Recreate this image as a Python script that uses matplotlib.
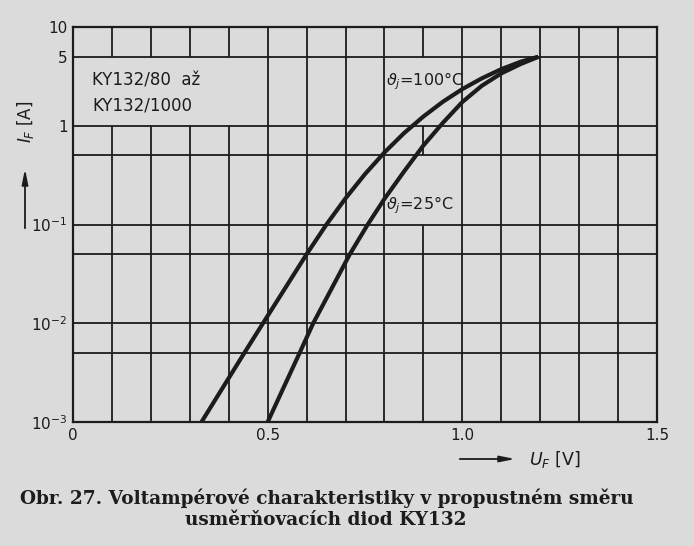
import matplotlib.pyplot as plt
from matplotlib.patches import Rectangle

# forward characteristic, U_F [V] vs I_F [A]
v_100 = [0.33, 0.44, 0.488, 0.60, 0.651, 0.70, 0.75, 0.80, 0.85, 0.90,
         0.95, 1.00, 1.05, 1.10, 1.15, 1.195]
i_100 = [0.001, 0.005, 0.01, 0.05, 0.1, 0.184, 0.324, 0.537, 0.84, 1.24,
         1.75, 2.35, 3.02, 3.74, 4.45, 5.0]

v_25 = [0.50, 0.582, 0.617, 0.711, 0.757, 0.80, 0.85, 0.90, 0.95, 1.00,
        1.05, 1.10, 1.15, 1.195]
i_25 = [0.001, 0.005, 0.01, 0.05, 0.1, 0.182, 0.343, 0.631, 1.07, 1.74,
        2.54, 3.39, 4.22, 4.98]

x_ticks = [0, 0.5, 1.0, 1.5]
x_tick_labels = ["0", "0.5", "1.0", "1.5"]
x_grid = [k / 10 for k in range(16)]
y_ticks = [1e-3, 1e-2, 1e-1, 1, 5, 10]
y_tick_labels = [r"$10^{-3}$", r"$10^{-2}$", r"$10^{-1}$", "1", "5", "10"]
y_grid = [1e-3, 5e-3, 1e-2, 5e-2, 1e-1, 0.5, 1, 5, 10]

paper = "#dbdbdb"
ink = "#1c1c1c"

plt.rcParams["font.family"] = ["DejaVu Sans"]
plt.rcParams["mathtext.fontset"] = "dejavusans"

fig = plt.figure(figsize=(6.94, 5.46), dpi=100, facecolor=paper)
ax = fig.add_axes([73 / 694, 1 - 422 / 546, (657 - 73) / 694, (422 - 27) / 546])
ax.set_facecolor(paper)
ax.set_yscale("log")
ax.set_xlim(0, 1.5)
ax.set_ylim(1e-3, 10)

# grid by hand: verticals under the label blanks, horizontals above them
for x in x_grid:
    ax.axvline(x, color=ink, lw=1.3, zorder=1)
for y in y_grid:
    ax.axhline(y, color=ink, lw=1.3, zorder=2.5)

# blank paper behind the labels (the scan has the verticals cut there)
for x0, x1, y0, y1 in [(0.004, 0.494, 1, 5), (0.86, 0.94, 1, 5), (0.86, 0.94, 0.1, 0.5)]:
    ax.add_patch(Rectangle((x0, y0), x1 - x0, y1 - y0, facecolor=paper,
                           edgecolor="none", zorder=2))

ax.plot(v_100, i_100, color=ink, lw=3.0, solid_capstyle="butt",
        solid_joinstyle="round", zorder=3)
ax.plot(v_25, i_25, color=ink, lw=3.0, solid_capstyle="butt",
        solid_joinstyle="round", zorder=3)

ax.text(0.049, 2.15, "KY132/80  až\nKY132/1000", fontsize=12, color=ink,
        va="center", ha="left", linespacing=1.55, zorder=4)
ax.text(0.805, 2.57, r"$\vartheta_j$=100°C", fontsize=11.5, color=ink,
        va="baseline", ha="left", zorder=4)
ax.text(0.805, 0.141, r"$\vartheta_j$=25°C", fontsize=11.5, color=ink,
        va="baseline", ha="left", zorder=4)

ax.set_xticks(x_ticks)
ax.set_xticklabels(x_tick_labels)
ax.set_yticks(y_ticks)
ax.set_yticklabels(y_tick_labels)
ax.minorticks_off()
ax.tick_params(length=0, labelsize=11, colors=ink, pad=4)
for s in ax.spines.values():
    s.set_color(ink)
    s.set_linewidth(1.6)

# axis captions with arrows, as in the book
fig.text(25 / 694, 1 - 122 / 546, r"$I_F$ [A]", rotation=90, fontsize=12,
         color=ink, ha="center", va="center")
plt.annotate("", xy=(25 / 694, 1 - 166 / 546), xytext=(25 / 694, 1 - 231 / 546),
             xycoords="figure fraction",
             arrowprops=dict(arrowstyle="-|>,head_length=0.9,head_width=0.18",
                             color=ink, lw=1.3))
fig.text(529 / 694, 1 - 460 / 546, r"$U_F$ [V]", fontsize=12.5, color=ink,
         ha="left", va="center")
plt.annotate("", xy=(518 / 694, 1 - 459 / 546), xytext=(457 / 694, 1 - 459 / 546),
             xycoords="figure fraction",
             arrowprops=dict(arrowstyle="-|>,head_length=0.9,head_width=0.18",
                             color=ink, lw=1.3))

fig.text(327 / 694, 1 - 498 / 546,
         "Obr. 27. Voltampérové charakteristiky v propustném směru",
         fontsize=13.3, family="DejaVu Serif", weight="bold", color=ink,
         ha="center", va="center")
fig.text(326 / 694, 1 - 520 / 546, "usměrňovacích diod KY132",
         fontsize=13.3, family="DejaVu Serif", weight="bold", color=ink,
         ha="center", va="center")

fig.savefig("out.png", dpi=100, facecolor=paper)
